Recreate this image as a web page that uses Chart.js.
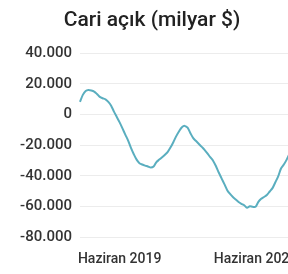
<!DOCTYPE html>
<html>
<head>
<meta charset="utf-8">
<script src="https://cdn.jsdelivr.net/npm/chart.js@4/dist/chart.umd.min.js"></script>
<style>
  html, body { margin: 0; padding: 0; background: #fff; overflow: hidden; }
  #wrap { width: 304px; height: 274px; }
</style>
</head>
<body>
<div id="wrap"><canvas id="myChart" width="304" height="274"></canvas></div>
<script>
const monthNames = [
  "Ocak", "Şubat", "Mart", "Nisan", "Mayıs", "Haziran",
  "Temmuz", "Ağustos", "Eylül", "Ekim", "Kasım", "Aralık",
];
// monthly labels from Nisan 2018 onward
const xValues = [];
for (let i = 0; i < 78; i++) {
  const m = (3 + i) % 12;
  const y = 2018 + Math.floor((3 + i) / 12);
  xValues.push(monthNames[m] + " " + y);
}
const tickLabels = ["Haziran 2019", "Haziran 2023"];
const yTicks = [40000, 20000, 0, -20000, -40000, -60000, -80000];

const yValues = [
  8300, 12800, 15400, 16000, 15700, 15000, 13400, 11500, 10600, 9900,
  8300, 5800, 1900, -1600, -5100, -9000, -13100, -17000, -21800, -25900,
  -29400, -31700, -32600, -33300, -33900, -34600, -33900, -31000, -29400, -27800,
  -26200, -24300, -21400, -17900, -14100, -10900, -8300, -7400, -8600, -12200,
  -15400, -17300, -19200, -21100, -23000, -25300, -27800, -30100, -33600, -37800,
  -41600, -45400, -49300, -51800, -53800, -55400, -57000, -58200, -59200, -60800,
  -59800, -60200, -60200, -57000, -55000, -53800, -52500, -50200, -48000, -44200,
  -40300, -35200, -32600, -29400, -25600, -22400,
];

function fmt(v) {
  const s = Math.abs(v).toString().replace(/\B(?=(\d{3})+(?!\d))/g, ".");
  return (v < 0 ? "-" : "") + s;
}

new Chart("myChart", {
  type: "line",
  data: {
    labels: xValues,
    datasets: [
      {
        data: yValues,
        borderColor: "#5aaebf",
        borderWidth: 2,
        pointRadius: 0,
        tension: 0.3,
        fill: false,
      },
    ],
  },
  options: {
    responsive: false,
    animation: false,
    layout: { padding: { top: 8, right: 0, bottom: 0, left: 0 } },
    plugins: {
      legend: { display: false },
      tooltip: { enabled: false },
      title: {
        display: true,
        text: "Cari açık (milyar $)",
        color: "#222",
        font: { family: "Roboto", size: 21, weight: "500" },
        padding: { top: 0, bottom: 20 },
      },
    },
    scales: {
      x: {
        grid: { display: false },
        border: { display: false },
        ticks: {
          autoSkip: false,
          maxRotation: 0,
          color: "#333",
          font: { family: "Roboto", size: 14, weight: "500" },
          padding: 6,
          callback: function (val) {
            const l = this.getLabelForValue(val);
            return tickLabels.includes(l) ? l : "";
          },
        },
      },
      y: {
        min: -80000,
        max: 40000,
        afterFit: (scale) => { scale.width = 80; },
        grid: { color: "#ececec", lineWidth: 1, drawTicks: false },
        border: { display: false },
        ticks: {
          stepSize: 20000,
          color: "#333",
          padding: 8,
          font: { family: "Roboto", size: 15, weight: "500" },
          callback: (v) => (yTicks.includes(v) ? fmt(v) : ""),
        },
      },
    },
  },
});
</script>
</body>
</html>
